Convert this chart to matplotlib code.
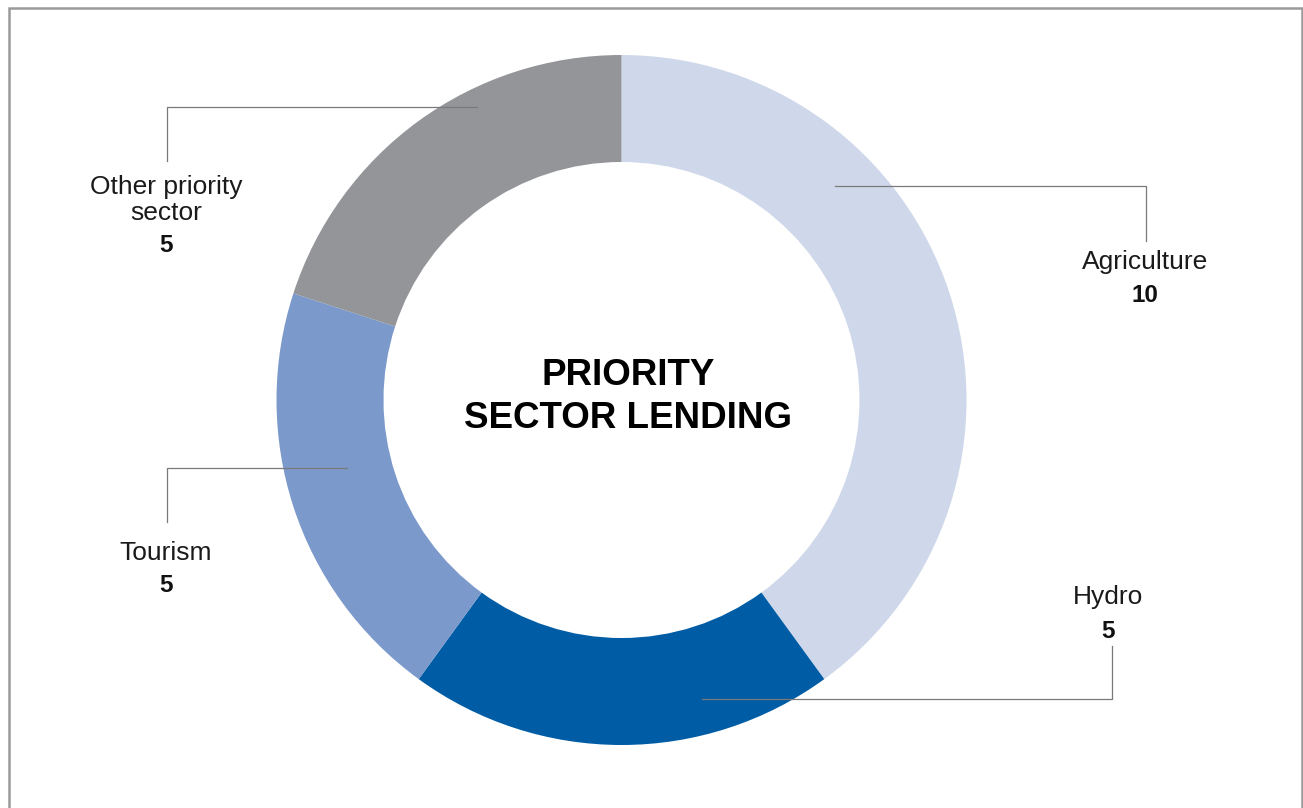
import matplotlib.pyplot as plt

plt.rcParams['font.family'] = ['Liberation Sans', 'DejaVu Sans']

# Priority sector lending by sector
sectors = ["Agriculture", "Hydro", "Tourism", "Other priority\nsector"]
amounts = [10, 5, 5, 5]
colors = ["#CFD8EA", "#005CA4", "#7B99CA", "#939598"]

W, H = 1303, 808


def fy(py):
    # pixel row (top-down) -> data y (bottom-up)
    return H - py


fig = plt.figure(figsize=(W / 100, H / 100), dpi=100)
ax = fig.add_axes([0, 0, 1, 1])

ax.pie(amounts, colors=colors, startangle=90, counterclock=False,
       radius=345, center=(621.5, fy(400)),
       wedgeprops=dict(width=107, linewidth=0))

ax.set_xlim(0, W)
ax.set_ylim(0, H)
ax.set_aspect("equal")
ax.axis("off")

# outer frame (top, left, right)
frame_c = "#9a9a9a"
ax.plot([8.5, 8.5, 1301.5, 1301.5], [fy(820), fy(8), fy(8), fy(820)],
        color=frame_c, lw=1.8, clip_on=False, solid_joinstyle="miter")

ax.text(628, fy(397), "PRIORITY\nSECTOR LENDING", ha="center", va="center",
        fontsize=26.5, fontweight="bold", linespacing=1.27)

# leader lines: (path in pixel coords), label anchor, value anchor
lc = "#7a7a7a"
leaders = [
    [(835, 186), (1146, 186), (1146, 241)],
    [(702, 699), (1112, 699), (1112, 646)],
    [(347, 468), (167, 468), (167, 522)],
    [(477, 107), (167, 107), (167, 161)],
]
label_pos = [(1145, 262), (1108, 597), (166, 553), (166, 200)]
value_pos = [(1145, 296), (1108, 631), (166, 586), (166, 246)]

for pts, (lx, ly), (vx, vy), name, val in zip(leaders, label_pos, value_pos,
                                              sectors, amounts):
    xs = [p[0] for p in pts]
    ys = [fy(p[1]) for p in pts]
    ax.plot(xs, ys, color=lc, lw=0.9)
    ax.text(lx, fy(ly), name, ha="center", va="center", fontsize=19,
            color="#1a1a1a", linespacing=1.13)
    ax.text(vx, fy(vy), str(val), ha="center", va="center", fontsize=17.5,
            fontweight="bold", color="#111111")

fig.savefig("out.png", dpi=100, facecolor="white")
